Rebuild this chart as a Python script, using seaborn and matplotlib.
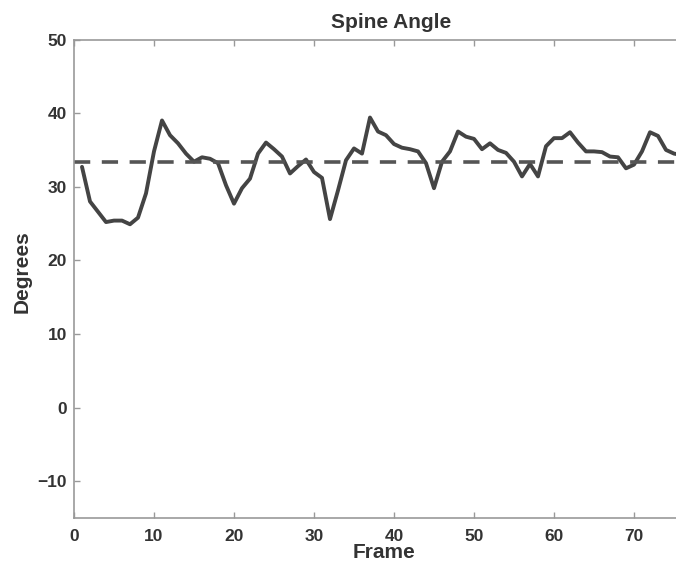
import matplotlib
matplotlib.use("Agg")
import matplotlib.pyplot as plt
import seaborn as sns
import pandas as pd

frames = list(range(1, 77))
angles = [32.7, 28.0, 26.6, 25.2, 25.4, 25.4, 24.9, 25.8, 29.1, 34.8,
          39.0, 37.0, 35.9, 34.5, 33.4, 34.0, 33.8, 33.2, 30.2, 27.7,
          29.8, 31.1, 34.5, 36.0, 35.1, 34.1, 31.8, 32.8, 33.7, 32.0,
          31.2, 25.6, 29.5, 33.6, 35.2, 34.5, 39.4, 37.5, 37.0, 35.8,
          35.3, 35.1, 34.8, 33.2, 29.8, 33.4, 34.8, 37.5, 36.8, 36.5,
          35.1, 35.9, 35.0, 34.6, 33.4, 31.4, 33.1, 31.4, 35.5, 36.6,
          36.6, 37.4, 36.0, 34.8, 34.8, 34.7, 34.1, 34.0, 32.5, 33.0,
          34.8, 37.4, 36.9, 35.0, 34.5, 34.3]
mean_angle = 33.3
title = "Spine Angle"
xlabel = "Frame"
ylabel = "Degrees"
xticks = [0, 10, 20, 30, 40, 50, 60, 70]
yticks = [-10, 0, 10, 20, 30, 40, 50]

df = pd.DataFrame({"Frame": frames, "Degrees": angles})

sns.set_theme(style="white")
plt.rcParams["font.family"] = ["Liberation Sans", "DejaVu Sans"]

fig = plt.figure(figsize=(6.76, 5.71), dpi=100)
ax = fig.add_axes([74 / 676, (571 - 518) / 571, 1 - 74 / 676, (518 - 39.5) / 571])

sns.lineplot(data=df, x="Frame", y="Degrees", ax=ax, color="#444444", linewidth=2.8)
ax.axhline(mean_angle, color="#555555", linewidth=2.6, linestyle=(0, (4.5, 3.2)))

ax.set_xlim(0, 75.25)
ax.set_ylim(-15, 50)
ax.set_xticks(xticks)
ax.set_yticks(yticks)
ax.set_yticklabels(["\u221210" if v == -10 else str(v) for v in yticks])

for side in ["left", "bottom", "top"]:
    ax.spines[side].set_color("#999999")
    ax.spines[side].set_linewidth(1.2)
ax.spines["right"].set_visible(False)

ax.tick_params(axis="both", direction="in", length=4, width=1, color="#999999",
               labelsize=12.5, labelcolor="#333333", top=True, bottom=True, left=True, pad=5)
ax.tick_params(axis="x", pad=8)
for lab in ax.get_xticklabels() + ax.get_yticklabels():
    lab.set_fontweight("bold")

axw = 676 - 74
ax.set_title(title, fontsize=15, fontweight="bold", color="#333333", pad=8,
             x=(391 - 74) / axw)
ax.set_xlabel(xlabel, fontsize=15, fontweight="bold", color="#333333")
ax.set_ylabel(ylabel, fontsize=15, fontweight="bold", color="#333333")
ax.xaxis.set_label_coords((384 - 74) / axw, -(552 - 518) / (518 - 39.5), transform=None) if False else None
ax.xaxis.set_label_coords((384 - 74) / axw, -(553 - 518) / (518 - 39.5))
ax.xaxis.label.set_verticalalignment("center")
ax.yaxis.set_label_coords(-(74 - 22) / axw, (518 - 272) / (518 - 39.5))
ax.yaxis.label.set_verticalalignment("center")

fig.savefig("out.png", dpi=100)
